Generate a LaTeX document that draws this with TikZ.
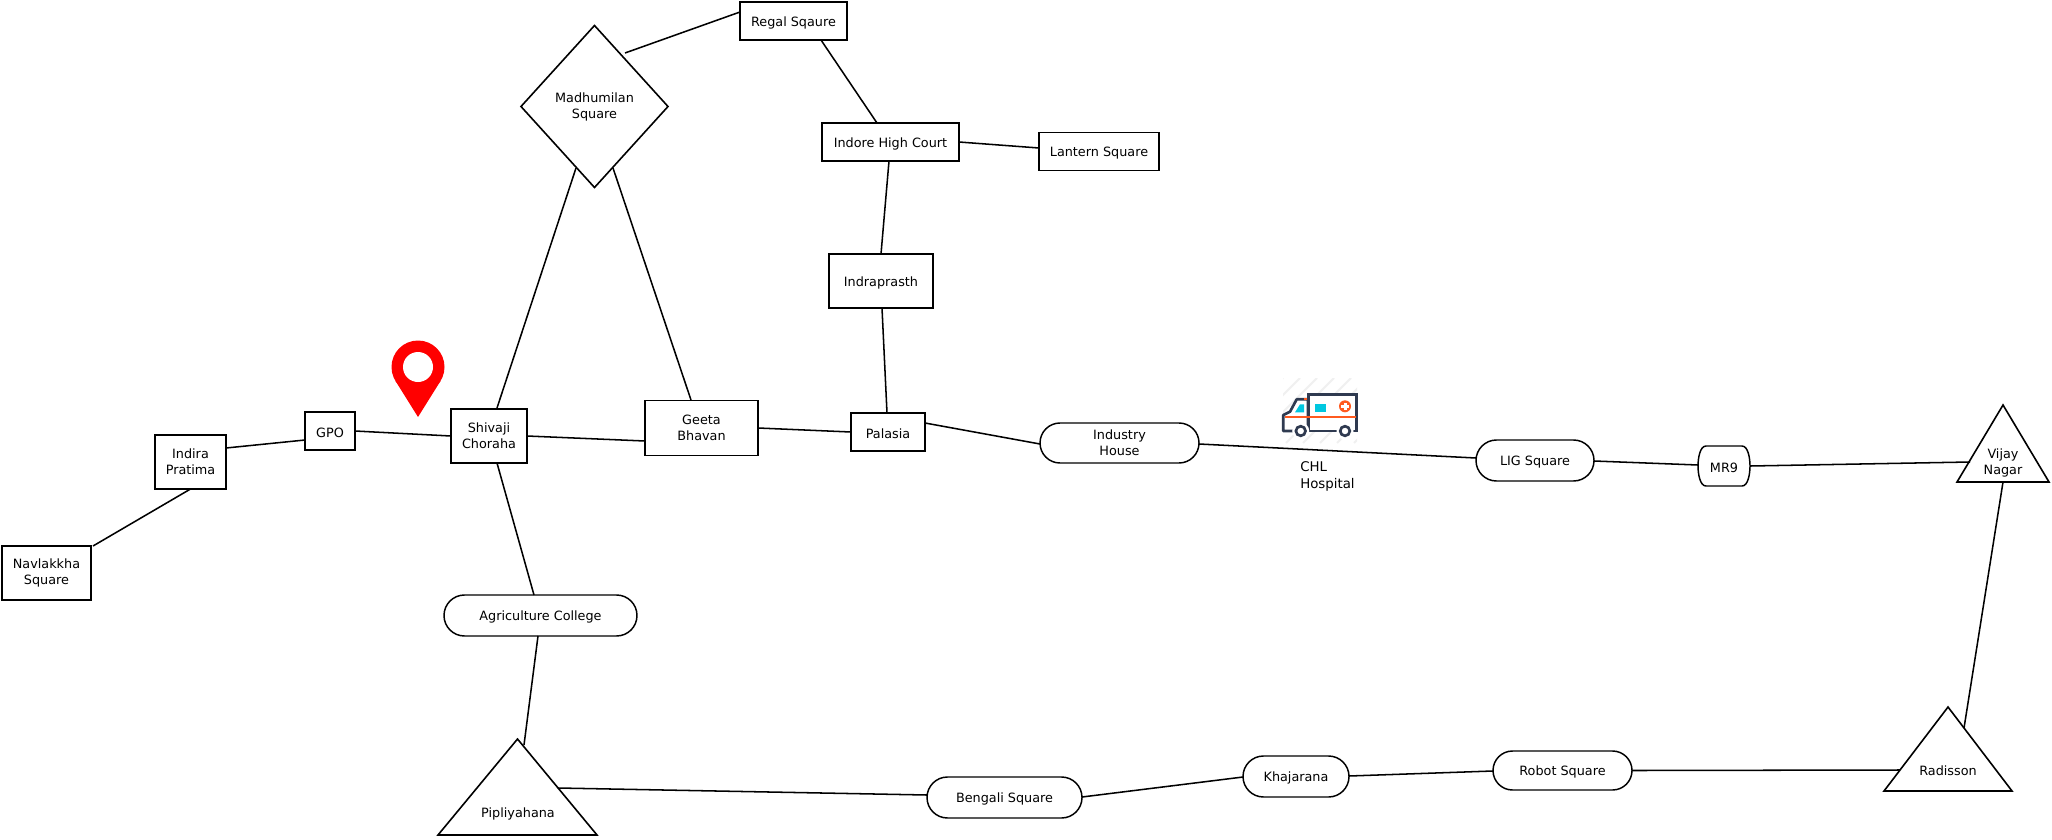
\documentclass[tikz,border=0pt]{standalone}
\usepackage{fontspec}
\setmainfont{DejaVu Sans}
\usetikzlibrary{shapes.geometric,shapes.misc}
\definecolor{ambdark}{HTML}{2F3A50}
\definecolor{amborange}{HTML}{FF5A1F}
\definecolor{ambcyan}{HTML}{00C8E0}
\tikzset{
  lbl/.style={font=\fontsize{9.6}{12}\selectfont,align=center,inner sep=0pt,outer sep=0pt,execute at begin node={\rule{0pt}{9.5pt}}},
  place/.style={lbl,draw=black,line width=1.15pt,rectangle},
  pill/.style={lbl,draw=black,line width=1.1pt,rounded rectangle},
  triframe/.style={rectangle,inner sep=0pt,outer sep=0pt},
  triedge/.style={draw=black,line width=1.2pt,line join=miter},
  link/.style={draw=black,line width=1.15pt}
}
\begin{document}
\begin{tikzpicture}[x=0.75pt,y=-0.75pt]
\useasboundingbox (0,0) rectangle (2052,839);
\fill[white] (0,0) rectangle (2052,839);

% places
\node[place,minimum width=66.75pt,minimum height=40.5pt] (nav) at (46.5,573) {Navlakkha\\Square};
\node[place,minimum width=53.25pt,minimum height=40.5pt] (indira) at (190.5,462) {Indira\\Pratima};
\node[place,minimum width=37.5pt,minimum height=28.5pt] (gpo) at (330,431) {GPO};
\node[place,minimum width=57pt,minimum height=40.5pt] (shiv) at (489,436) {Shivaji\\Choraha};
\node[place,minimum width=84.75pt,minimum height=41.25pt] (geeta) at (701.5,428) {Geeta\\Bhavan};
\node[place,minimum width=55.5pt,minimum height=28.5pt] (palasia) at (888,432) {Palasia};
\node[place,minimum width=78pt,minimum height=40.5pt] (indra) at (881,281) {Indraprasth};
\node[place,minimum width=102.75pt,minimum height=28.5pt] (court) at (890.5,142) {Indore High Court};
\node[place,minimum width=90pt,minimum height=28.5pt] (lantern) at (1099,151.5) {Lantern Square};
\node[place,minimum width=80.25pt,minimum height=28.5pt] (regal) at (793.5,21) {Regal Sqaure};
\node[lbl,draw=black,line width=1.2pt,diamond,aspect=0.907,minimum width=110.25pt,minimum height=121.5pt] (madh) at (594.5,106.5) {Madhumilan\\Square};

\node[pill,minimum width=144.75pt,minimum height=30.75pt] (agri) at (540.5,615.5) {Agriculture College};
\node[pill,minimum width=119.25pt,minimum height=30pt] (indus) at (1119.5,443) {Industry\\House};
\node[pill,minimum width=88.5pt,minimum height=30.75pt] (lig) at (1535,460.5) {LIG Square};
\node[lbl,rectangle,minimum width=39pt,minimum height=30pt] (mr9) at (1724,466) {MR9};
\draw[black,line width=1.1pt] ([shift={(-18,-20)}]mr9.center) -- ([shift={(18,-20)}]mr9.center)
  .. controls ([shift={(24,-20)}]mr9.center) and ([shift={(26,-8)}]mr9.center) .. (mr9.east)
  .. controls ([shift={(26,8)}]mr9.center) and ([shift={(24,20)}]mr9.center) .. ([shift={(18,20)}]mr9.center)
  -- ([shift={(-18,20)}]mr9.center)
  .. controls ([shift={(-24,20)}]mr9.center) and ([shift={(-26,8)}]mr9.center) .. (mr9.west)
  .. controls ([shift={(-26,-8)}]mr9.center) and ([shift={(-24,-20)}]mr9.center) .. cycle;
\node[pill,minimum width=116.25pt,minimum height=30.75pt] (bengali) at (1004.5,797.5) {Bengali Square};
\node[pill,minimum width=79.5pt,minimum height=30.75pt] (khaj) at (1296,776.5) {Khajarana};
\node[pill,minimum width=104.25pt,minimum height=29.25pt] (robot) at (1562.5,770.5) {Robot Square};

% triangles
\node[triframe,minimum width=69pt,minimum height=57.75pt] (vijay) at (2003,443.5) {};
\draw[triedge] (vijay.south west) -- (vijay.north) -- (vijay.south east) -- cycle;
\node[lbl] (vijayt) at (2003,463) {Vijay\\Nagar};
\node[triframe,minimum width=96pt,minimum height=63pt] (radisson) at (1948,749) {};
\draw[triedge] (radisson.south west) -- (radisson.north) -- (radisson.south east) -- cycle;
\node[lbl] (radissont) at (1948,769) {Radisson};
\node[triframe,minimum width=119.25pt,minimum height=72pt] (pipl) at (517.5,787) {};
\draw[triedge] (pipl.south west) -- (pipl.north) -- (pipl.south east) -- cycle;
\node[lbl] (piplt) at (518,812) {Pipliyahana};

% connectors
\draw[link] ([shift={(46.5,-27)}]nav.center) -- ([shift={(0,27)}]indira.center);
\draw[link] ([shift={(35.5,-14)}]indira.center) -- ([shift={(-25,9)}]gpo.center);
\draw[link] (gpo.east) -- (shiv.west);
\draw[link] (shiv.east) -- ([shift={(-56.5,13)}]geeta.center);
\draw[link] ([shift={(56.5,0)}]geeta.center) -- (palasia.west);
\draw[link] ([shift={(37,-9)}]palasia.center) -- ([shift={(-79.5,1)}]indus.center);
\draw[link] ([shift={(79.5,1)}]indus.center) -- ([shift={(-59,-2.5)}]lig.center);
\draw[link] ([shift={(59,0.5)}]lig.center) -- ([shift={(-26,-1)}]mr9.center);
\draw[link] (mr9.east) -- ([shift={(-33,18.5)}]vijay.center);
\draw[link] ([shift={(0,38.5)}]vijay.center) -- ([shift={(16,-21)}]radisson.center);
\draw[link] ([shift={(-48,21)}]radisson.center) -- (robot.east);
\draw[link] ([shift={(-69.5,0.5)}]robot.center) -- ([shift={(53,-0.5)}]khaj.center);
\draw[link] ([shift={(-53,0.5)}]khaj.center) -- ([shift={(77.5,-0.5)}]bengali.center);
\draw[link] ([shift={(-77.5,-2.5)}]bengali.center) -- ([shift={(40.5,1)}]pipl.center);
\draw[link] ([shift={(6.5,-42)}]pipl.center) -- ([shift={(-2.5,20.5)}]agri.center);
\draw[link] ([shift={(-6.5,-20.5)}]agri.center) -- ([shift={(8,27)}]shiv.center);
\draw[link] ([shift={(8,-28)}]shiv.center) -- ([shift={(-18.5,61.5)}]madh.center);
\draw[link] ([shift={(-10.5,-28)}]geeta.center) -- ([shift={(18.5,61.5)}]madh.center);
\draw[link] ([shift={(30.5,-53.5)}]madh.center) -- ([shift={(-53.5,-9)}]regal.center);
\draw[link] ([shift={(27.5,19)}]regal.center) -- ([shift={(-13.5,-19)}]court.center);
\draw[link] (court.east) -- ([shift={(-60,-3.5)}]lantern.center);
\draw[link] ([shift={(-1.5,19)}]court.center) -- ([shift={(0,-27)}]indra.center);
\draw[link] ([shift={(1,27)}]indra.center) -- ([shift={(-1,-19)}]palasia.center);

% hospital caption
\node[font=\fontsize{10}{12.75}\selectfont,align=left,inner sep=0pt,anchor=west] (chl) at (1300,476.5) {CHL\\Hospital};

% map pin
\fill[red] (418,367) circle (26.5);
\fill[red] (395.5,381) -- (418,417) -- (440.5,381) -- cycle;
\fill[white] (418,367) circle (15);

% ambulance
\begin{scope}
\clip (1283,378) rectangle (1357,443);
\foreach \s in {-30,-13,...,130}{
  \draw[black!6,line width=1.5pt] (1283+\s-35,443) -- (1283+\s+30,378);
}
\end{scope}
\draw[fill=white,draw=ambdark,line width=2pt,line join=round] (1308,399.3) -- (1296.7,399.3) -- (1290,411.7) -- (1283.3,415) -- (1283.3,431) -- (1308,431) -- cycle;
\fill[amborange] (1304,397.5) rectangle (1308.3,399.5);
\draw[fill=white,draw=ambdark,line width=2pt] (1308.3,394.3) rectangle (1356.7,431);
\fill[ambcyan] (1315,404) rectangle (1326,412.3);
\fill[ambcyan] (1295,412.3) -- (1300,404.3) -- (1304,404.3) -- (1304,412.3) -- cycle;
\draw[amborange,line width=1.6pt] (1285,417.3) -- (1355.5,417.3);
\fill[amborange] (1345,406.3) circle (6);
\fill[white] (1343.5,402.5) rectangle (1346.5,410);
\fill[white] (1341.2,404.8) rectangle (1348.8,407.8);
\foreach \wx in {1300.7,1345}{
  \fill[white] (\wx,431) circle (8.5);
  \draw[fill=white,draw=ambdark,line width=2pt] (\wx,431) circle (4.8);
}
\end{tikzpicture}
\end{document}
